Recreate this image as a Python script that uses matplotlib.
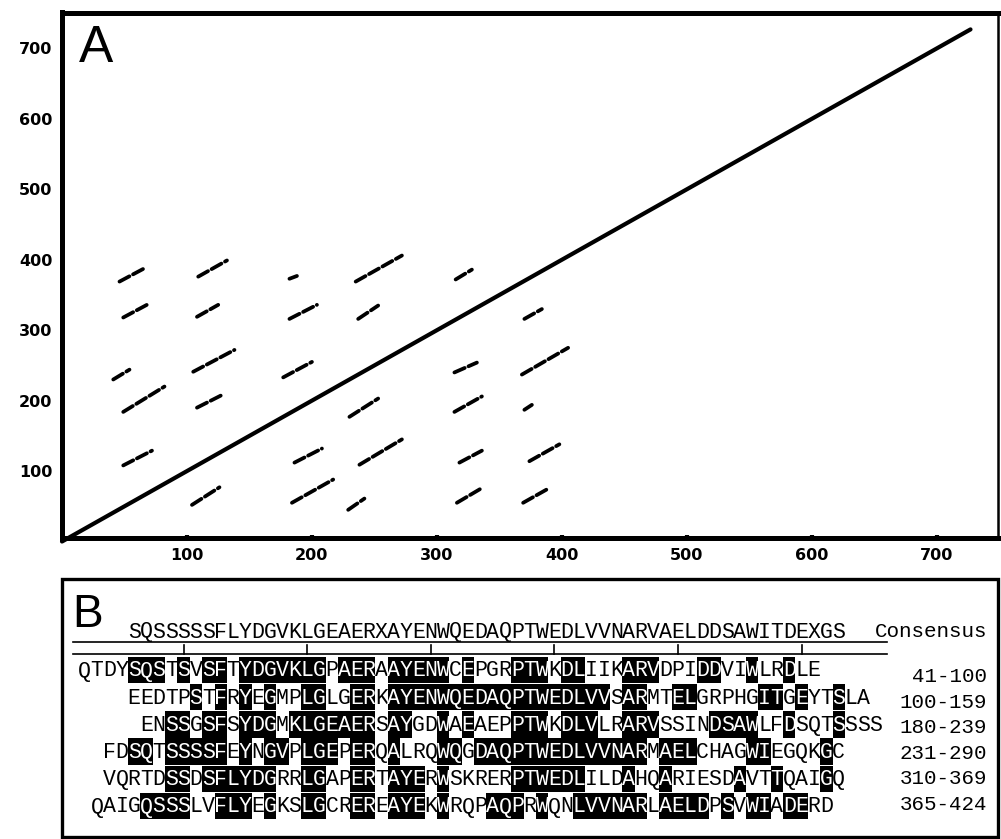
import matplotlib.pyplot as plt
from matplotlib.patches import Rectangle

plt.rcParams.update({
    "font.family": "sans-serif",
    "font.sans-serif": ["DejaVu Sans"],
    "figure.dpi": 100,
})

# ---- panel A: dot plot (self comparison) ----
DIAG_END = 727
SEG_X0 = [46, 109, 182, 235, 315,
          49, 108, 182, 237, 370,
          41, 105, 177, 314, 368,
          49, 108, 230, 314, 370,
          49, 186, 238, 318, 374,
          104, 184, 229, 316, 369]
SEG_X1 = [65, 132, 188, 272, 328,
          70, 125, 204, 253, 384,
          54, 138, 200, 332, 405,
          82, 128, 253, 336, 376,
          72, 208, 272, 336, 398,
          126, 217, 242, 337, 388]
SEG_Y0 = [369, 376, 373, 369, 372,
          318, 319, 316, 316, 316,
          230, 241, 233, 240, 237,
          184, 190, 177, 184, 187,
          108, 112, 109, 112, 114,
          52, 55, 45, 55, 55]
SEG_Y1 = [387, 399, 377, 406, 386,
          338, 336, 336, 335, 330,
          244, 272, 255, 254, 275,
          220, 208, 203, 206, 194,
          129, 132, 145, 129, 138,
          77, 88, 61, 77, 74]
TICKS = [100, 200, 300, 400, 500, 600, 700]

# ---- panel B: alignment ----
CONSENSUS = "SQSSSSSFLYDGVKLGEAERXAYENWQEDAQPTWEDLVVNARVAELDDSAWITDEXGS"
ROWS = [
    "QTDYSQSTSVSFTYDGVKLGPAERAAYENWCEPGRPTWKDLIIKARVDPIDDVIWLRDLE",
    "EEDTPSTFRYEGMPLGLGERKAYENWQEDAQPTWEDLVVSARMTELGRPHGITGEYTSLA",
    "ENSSGSFSYDGMKLGEAERSAYGDWAEAEPPTWKDLVLRARVSSINDSAWLFDSQTSSSS",
    "FDSQTSSSSFEYNGVPLGEPERQALRQWQGDAQPTWEDLVVNARMAELCHAGWIEGQKGC",
    "VQRTDSSDSFLYDGRRLGAPERTAYERWSKRERPTWEDLILDAHQARIESDAVTTQAIGQ",
    "QAIGQSSSLVFLYEGKSLGCREREAYEKWRQPAQPRWQNLVVNARLAELDPSVWIADERD",
]
ROW_START = [-4, 0, 1, -2, -2, -3]
RANGES = ["41-100", "100-159", "180-239", "231-290", "310-369", "365-424"]
RULER_COLS = [4, 14, 24, 34, 44, 54]

W, H = 1001, 839
fig = plt.figure(figsize=(W / 100, H / 100), dpi=100, facecolor="white")

# panel A axes, placed in pixel terms
L, R, T, B = 62, 998, 12.5, 538
ax = fig.add_axes([L / W, 1 - B / H, (R - L) / W, (B - T) / H])
ax.plot([0, DIAG_END], [0, DIAG_END], color="black", lw=3.0, solid_capstyle="round",
        clip_on=False)
for x0, x1, y0, y1 in zip(SEG_X0, SEG_X1, SEG_Y0, SEG_Y1):
    ax.plot([x0, x1], [y0, y1], color="black", lw=2.7, linestyle=(0, (3.0, 1.1)),
            dash_capstyle="round")
ax.set_xlim(0, 749)
ax.set_ylim(5, 751)
ax.set_xticks(TICKS)
ax.set_yticks(TICKS)
ax.tick_params(direction="in", length=2.5, width=3, labelsize=11.5, pad=7)
for lab in ax.get_xticklabels() + ax.get_yticklabels():
    lab.set_fontweight("bold")
for side in ("left", "top", "bottom"):
    ax.spines[side].set_linewidth(3.6)
ax.spines["right"].set_linewidth(1.8)
ax.text(0.018, 0.905, "A", transform=ax.transAxes, fontsize=37,
        family="Liberation Sans", va="baseline", ha="left")

# panel B drawn in a pixel-space overlay
bx = fig.add_axes([0, 0, 1, 1])
bx.set_xlim(0, W)
bx.set_ylim(H, 0)
bx.axis("off")

bx.add_patch(Rectangle((62, 579), 936, 258, fill=False, lw=2.4, edgecolor="black"))
bx.text(72, 627, "B", fontsize=33, family="Liberation Sans", va="baseline", ha="left")

X0, CW = 128, 12.36
ROW_Y0, ROW_DY, BOX_H = 670, 27.2, 26.5
SEQ_FONT = dict(family="Liberation Mono", fontsize=15.5, ha="center", va="baseline")


def col_center(c):
    return X0 + (c + 0.5) * CW


for i, ch in enumerate(CONSENSUS):
    bx.text(col_center(i), 637.5, ch, color="black", **SEQ_FONT)

# ruler lines under consensus
bx.plot([73, 887], [642, 642], color="black", lw=1.2)
bx.plot([73, 887], [654, 654], color="black", lw=1.2)
for c in RULER_COLS:
    bx.plot([col_center(c), col_center(c)], [654, 645], color="black", lw=1.2)

bx.text(875, 637, "Consensus", family="Liberation Mono", fontsize=15,
        ha="left", va="baseline")

for r, (seq, start) in enumerate(zip(ROWS, ROW_START)):
    yc = ROW_Y0 + r * ROW_DY
    for k, ch in enumerate(seq):
        c = start + k
        match = 0 <= c < len(CONSENSUS) and CONSENSUS[c] == ch
        if match:
            bx.add_patch(Rectangle((X0 + c * CW, yc - BOX_H / 2), CW, BOX_H,
                                   facecolor="black", edgecolor="none"))
        bx.text(col_center(c), yc + 6.5, ch, color="white" if match else "black",
                **SEQ_FONT)

for r, lab in enumerate(RANGES):
    bx.text(987, 682 + r * 25.6, lab, family="Liberation Mono", fontsize=15,
            ha="right", va="baseline")

fig.savefig("out.png", dpi=100, facecolor="white")
